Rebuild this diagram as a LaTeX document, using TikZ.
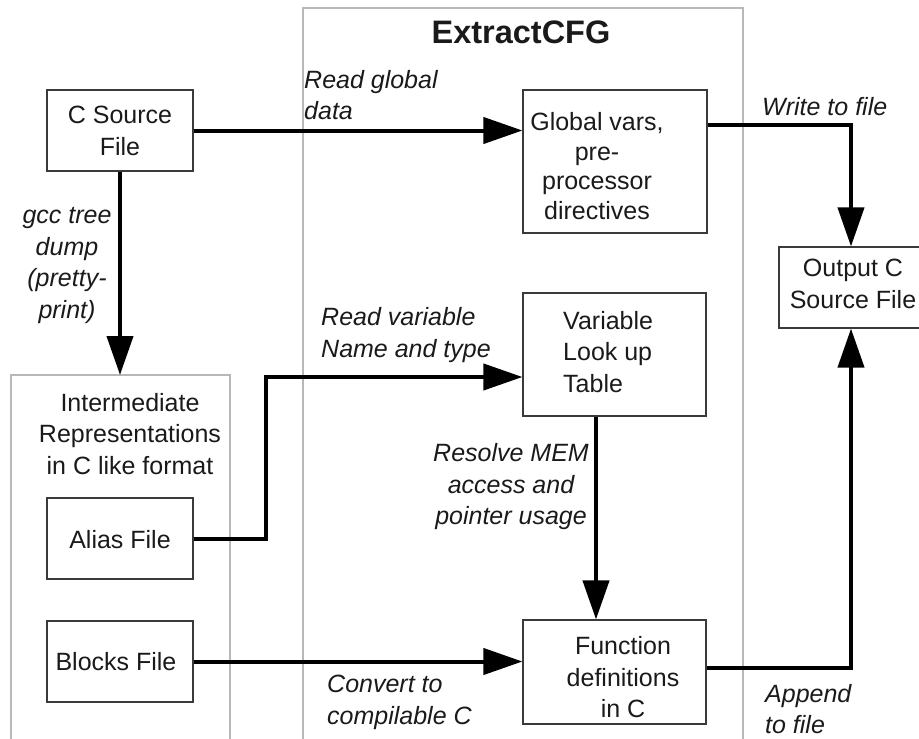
\documentclass[tikz,border=0pt]{standalone}
\usepackage{fontspec}
\setmainfont{Liberation Sans}
\usetikzlibrary{arrows.meta}
\definecolor{boxline}{HTML}{3A3A3A}
\definecolor{panelline}{HTML}{B8B8B8}
\definecolor{ink}{HTML}{1A1A1A}
\begin{document}
\begin{tikzpicture}[x=1pt,y=-1pt,
  box/.style={draw=boxline, line width=1.1pt, inner sep=0pt},
  panel/.style={draw=panelline, line width=1.2pt},
  txt/.style={font=\fontsize{25}{31.5}\selectfont, align=center, text=ink, inner sep=0pt},
  lbl/.style={font=\fontsize{25}{31.5}\selectfont\itshape, text=ink, inner sep=0pt},
  conn/.style={line width=4pt, line join=miter, -{Triangle[length=39pt,width=26pt]}}]
\useasboundingbox (0,0) rectangle (919,739);
\begin{scope}
\clip (0,0) rectangle (919,739);

% panels (open at the bottom)
\draw[panel] (303,745) -- (303,8) -- (743,8) -- (743,745);
\draw[panel] (11,745) -- (11,375) -- (230,375) -- (230,745);
\node[font=\fontsize{32.5}{36}\selectfont\bfseries, text=ink, inner sep=0pt] (title) at (521,32) {ExtractCFG};
\node[txt] (irtitle) at (130,434) {Intermediate\\Representations\\in C like format};
\coordinate (irtop) at (120,375);

% boxes
\node[box, minimum width=146pt, minimum height=81pt] (csrc) at (120,130.5) {};
\node[box, minimum width=184pt, minimum height=143pt] (glob) at (615,161.5) {};
\node[box, minimum width=183pt, minimum height=123pt] (var) at (614.5,354.5) {};
\node[box, minimum width=183pt, minimum height=104pt] (func) at (614.5,672) {};
\node[box, minimum width=146pt, minimum height=81pt] (alias) at (120,538.5) {};
\node[box, minimum width=146pt, minimum height=81pt] (blocks) at (120,661.5) {};
\node[box, minimum width=144pt, minimum height=81pt] (out) at (851,287.5) {};

% box texts
\node[txt] (csrctext) at (120,131) {C Source\\File};
\node[txt, font=\fontsize{25}{29.5}\selectfont] (globtext) at (597,166) {Global vars,\\pre-\\processor\\directives};
\node[txt, align=left, anchor=west] (vartext) at (563,352) {Variable\\Look up\\Table};
\node[txt] (functext) at (623,677.5) {Function\\definitions\\in C};
\node[txt] (aliastext) at (120,540) {Alias File};
\node[txt] (blockstext) at (116,662) {Blocks File};
\node[txt] (outtext) at (853,284) {Output C\\Source File};

% connector labels
\node[lbl, align=center] (gcc) at (67,265.5) {gcc tree\\dump\\(pretty-\\print)};
\node[lbl, align=left, anchor=west] (readglob) at (304,95) {Read global\\data};
\node[lbl, anchor=west] (write) at (762,107) {Write to file};
\node[lbl, align=left, anchor=west] (readvar) at (321,335) {Read variable\\Name and type};
\node[lbl, align=center] (resolve) at (511,487) {Resolve MEM\\access and\\pointer usage};
\node[lbl, align=left, anchor=west] (convert) at (327,702.5) {Convert to\\compilable C};
\node[lbl, align=left, anchor=west] (append) at (765,709) {Append\\to file};

% connectors
\coordinate (wr) at (851,125);
\coordinate (abend) at (266,377);
\draw[conn] (csrc.south) -- (irtop);
\draw[conn] (csrc.east) -- (csrc.east -| glob.west);
\draw[conn] (glob.east |- wr) -- (wr) -- (out.north);
\draw[conn] (alias.east) -| (abend) -- (abend -| var.west);
\draw[conn] (blocks.east) -- (blocks.east -| func.west);
\draw[conn] ([xshift=-18.5pt]var.south) -- ([xshift=-18.5pt]var.south |- func.north);
\draw[conn] ([yshift=4pt]func.east) -| (out.south);
\end{scope}
\end{tikzpicture}
\end{document}
